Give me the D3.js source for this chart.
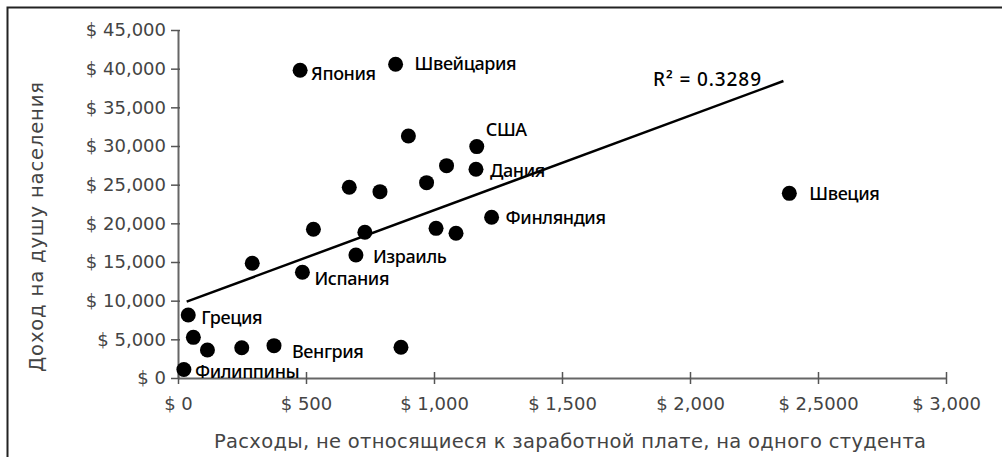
<!DOCTYPE html>
<html>
<head>
<meta charset="utf-8">
<script src="https://cdn.jsdelivr.net/npm/d3@7"></script>
<style>
  html, body { margin: 0; padding: 0; background: #fff; }
  svg { display: block; }
</style>
</head>
<body>
<svg id="chart" width="1002" height="457"></svg>
<script>
// ---- data ----
const countries = ["Филиппины","Греция","","","","Венгрия","","","Испания","Израиль","","","","","","","Дания","США","","","","Финляндия","Швейцария","Япония","Швеция"];
const spending  = [23, 40, 60, 115, 249, 375, 871, 290, 486, 695, 529, 730, 669, 789, 971, 1049, 1164, 1167, 900, 1008, 1086, 1225, 850, 477, 2388];
const income    = [1100, 8150, 5260, 3620, 3920, 4180, 3970, 14830, 13670, 15900, 19230, 18840, 24660, 24100, 25260, 27460, 27000, 29920, 31300, 19350, 18710, 20780, 40570, 39800, 23880];
const trendX = [34, 2365];
const trendY = [9870, 38400];
const rSquaredLabel = "R² = 0.3289";
const yTicks = [0, 5000, 10000, 15000, 20000, 25000, 30000, 35000, 40000, 45000];
const xTicks = [0, 500, 1000, 1500, 2000, 2500, 3000];
const xTickLabels = ["$ 0", "$ 500", "$ 1,000", "$ 1,500", "$ 2,000", "$ 2,5000", "$ 3,000"];
const xTitle = "Расходы, не относящиеся к заработной плате, на одного студента";
const yTitle = "Доход на душу населения";

// ---- layout ----
const svg = d3.select("#chart");
const x = d3.scaleLinear().domain([0, 3000]).range([178, 946]);
const y = d3.scaleLinear().domain([0, 45000]).range([378, 30]);

// frame (left + top edges only visible)
svg.append("path")
  .attr("d", "M7.5,457 L7.5,7.5 L1002,7.5")
  .attr("fill", "none").attr("stroke", "#222").attr("stroke-width", 2);

const tickFont = "'DejaVu Sans', sans-serif";
const labelFont = "'Noto Sans', 'DejaVu Sans', sans-serif";

// y axis
const yAxis = svg.append("g").attr("transform", `translate(${x(0)},0)`)
  .call(d3.axisLeft(y).tickValues(yTicks)
    .tickFormat(d => "$ " + d3.format(",")(d))
    .tickSizeOuter(0).tickSizeInner(7).tickPadding(5));
yAxis.select(".domain").attr("stroke", "#666").attr("stroke-width", 2);
yAxis.selectAll(".tick line").attr("stroke", "#555").attr("stroke-width", 1.5).attr("x1", 2);
yAxis.selectAll(".tick text").attr("font-family", tickFont).attr("font-size", 18).attr("fill", "#444");

// x axis
const xAxis = svg.append("g").attr("transform", `translate(0,${y(0)})`)
  .call(d3.axisBottom(x).tickValues(xTicks)
    .tickFormat((d, i) => xTickLabels[i])
    .tickSizeOuter(0).tickSizeInner(6));
xAxis.select(".domain").attr("stroke", "#666").attr("stroke-width", 2);
xAxis.selectAll(".tick line").attr("stroke", "#555").attr("stroke-width", 1.5).attr("y1", -6);
xAxis.selectAll(".tick text").attr("font-family", tickFont).attr("font-size", 18).attr("fill", "#444")
  .attr("y", 32).attr("dy", 0);

// axis titles
svg.append("text")
  .attr("x", 570).attr("y", 448)
  .attr("text-anchor", "middle")
  .attr("font-family", tickFont).attr("font-size", 19.5).attr("fill", "#444")
  .attr("textLength", 712).attr("lengthAdjust", "spacing")
  .text(xTitle);

svg.append("text")
  .attr("transform", "translate(43,227) rotate(-90)")
  .attr("text-anchor", "middle")
  .attr("font-family", tickFont).attr("font-size", 19.5).attr("fill", "#444")
  .attr("textLength", 290).attr("lengthAdjust", "spacing")
  .text(yTitle);

// trend line
svg.append("line")
  .attr("x1", x(trendX[0])).attr("y1", y(trendY[0]))
  .attr("x2", x(trendX[1])).attr("y2", y(trendY[1]))
  .attr("stroke", "#000").attr("stroke-width", 2.5);

svg.append("text")
  .attr("x", 653).attr("y", 79).attr("dy", "0.36em")
  .attr("font-family", labelFont).attr("font-size", 19).attr("font-weight", 500).attr("fill", "#000")
  .attr("textLength", 108).attr("lengthAdjust", "spacing")
  .text(rSquaredLabel);

// points
const pts = spending.map((s, i) => ({ s, v: income[i], name: countries[i] }));
svg.append("g").selectAll("circle").data(pts).join("circle")
  .attr("cx", d => x(d.s)).attr("cy", d => y(d.v)).attr("r", 7.5)
  .attr("fill", "#000");

// label placement offsets (dx, dy from dot centre to text start / middle)
const labelOffset = {
  "Филиппины": [11, 2], "Греция": [13, 3], "Венгрия": [18, 6], "Испания": [12, 6],
  "Израиль": [17, 1], "Дания": [14, 1], "США": [9, -17], "Финляндия": [14, 0],
  "Швейцария": [19, -1], "Япония": [11, 3], "Швеция": [20, 0]
};
svg.append("g").selectAll("text").data(pts.filter(d => d.name)).join("text")
  .attr("x", d => x(d.s) + labelOffset[d.name][0])
  .attr("y", d => y(d.v) + labelOffset[d.name][1])
  .attr("dy", "0.36em")
  .attr("font-family", labelFont).attr("font-size", 18).attr("font-weight", 500)
  .attr("letter-spacing", -0.4)
  .attr("fill", "#000")
  .text(d => d.name);
</script>
</body>
</html>
